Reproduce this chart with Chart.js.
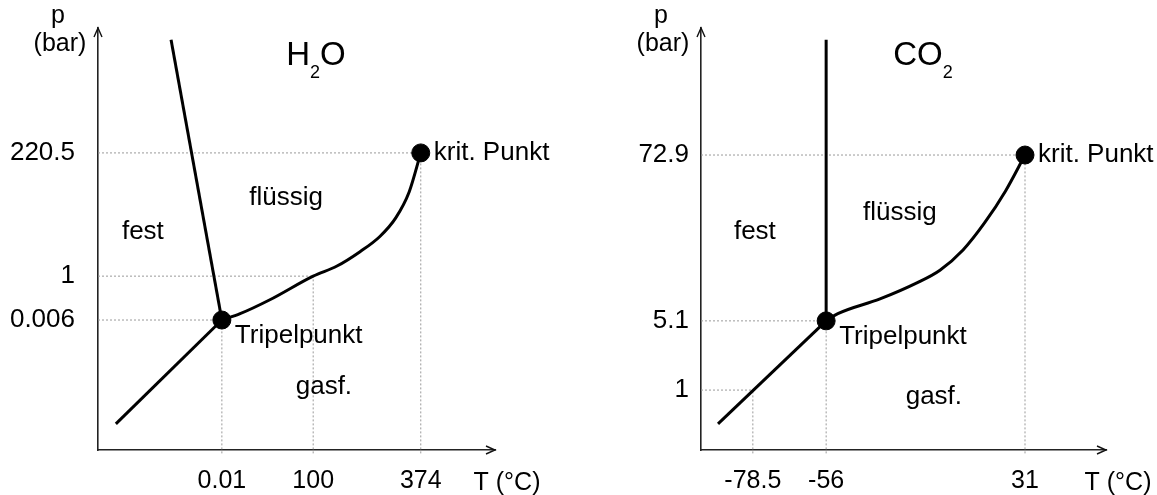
<!DOCTYPE html>
<html>
<head>
<meta charset="utf-8">
<title>Phasendiagramme H2O / CO2</title>
<script src="https://cdn.jsdelivr.net/npm/chart.js@4.4.1/dist/chart.umd.min.js"></script>
<style>
body { margin: 0; background: #fff; }
#page { position: relative; width: 1157px; height: 495px; }
canvas { position: absolute; top: 0; }
</style>
</head>
<body>
<div id="page">
  <canvas id="h2o" width="578" height="495" style="left:0px"></canvas>
  <canvas id="co2" width="579" height="495" style="left:578px"></canvas>
</div>
<script>
// schematic diagrams: both axes run 0..100, not to scale.
// tick i on T and tick i on p meet in a point of the diagram.
var h2oTempLabels  = ['0.01', '100', '374'];
var h2oTempPos     = [31.2, 54.2, 81.3];
var h2oPressLabels = ['0.006', '1', '220.5'];
var h2oPressPos    = [30.8, 41.2, 70.4];
var h2oMelt = [[18.4, 97.2], [31.2, 30.8]];
var h2oSubl = [[4.5, 6.2], [31.2, 30.8]];
var h2oVap  = [[31.2, 30.8], [35.8, 32.3], [43.3, 35.6], [54.2, 41.2], [60.2, 43.6],
               [66.0, 47.0], [71.0, 50.6], [75.0, 55.0], [78.4, 61.2], [81.3, 70.4]];
var h2oRegions   = ['fest', 'flüssig', 'gasf.'];
var h2oRegionPos = [[11.3, 51.7], [47.4, 59.7], [56.9, 14.9]];

var co2TempLabels  = ['-78.5', '-56', '31'];
var co2TempPos     = [12.8, 30.9, 80.0];
var co2PressLabels = ['1', '5.1', '72.9'];
var co2PressPos    = [14.2, 30.6, 69.9];
var co2Melt = [[30.9, 97.2], [30.9, 30.6]];
var co2Subl = [[4.2, 6.2], [30.9, 30.6]];
var co2Vap  = [[30.9, 30.6], [33.8, 32.3], [44.2, 35.8], [53.3, 39.6], [59.0, 42.6],
               [64.7, 47.4], [70.0, 53.8], [75.2, 61.4], [80.0, 69.9]];
var co2Regions   = ['fest', 'flüssig', 'gasf.'];
var co2RegionPos = [[13.3, 51.7], [49.1, 56.2], [57.5, 12.6]];

var FONT = '"Liberation Sans", Arial, sans-serif';

function pts(arr) {
  return arr.map(function (p) { return { x: p[0], y: p[1] }; });
}

// dotted helper lines from the axes to the point where tick i of T and p meet
function guides(xPos, yPos) {
  var sets = [];
  for (var i = 0; i < xPos.length; i++) {
    [[{ x: 0, y: yPos[i] }, { x: xPos[i], y: yPos[i] }],
     [{ x: xPos[i], y: -0.8 }, { x: xPos[i], y: yPos[i] }]].forEach(function (d) {
      sets.push({ data: d, showLine: true, borderColor: '#9a9a9a', borderWidth: 1,
                  borderDash: [2, 2], pointRadius: 0, order: 3, clip: false });
    });
  }
  return sets;
}

// arrows, axis names, region names, title
function decor(cfg) {
  return {
    id: 'decor',
    afterDraw: function (chart) {
      var ctx = chart.ctx, a = chart.chartArea;
      var sx = chart.scales.x, sy = chart.scales.y;
      var n = cfg.xPos.length - 1, t = cfg.triple;
      ctx.save();
      ctx.strokeStyle = '#111';
      ctx.lineWidth = 1.4;
      ctx.beginPath();
      ctx.moveTo(a.left - 4, a.top + 9); ctx.lineTo(a.left, a.top); ctx.lineTo(a.left + 4, a.top + 9);
      ctx.moveTo(a.right - 9, a.bottom - 4); ctx.lineTo(a.right, a.bottom); ctx.lineTo(a.right - 9, a.bottom + 4);
      ctx.stroke();

      ctx.fillStyle = '#000';
      ctx.font = '25px ' + FONT;
      ctx.textAlign = 'center';
      ctx.textBaseline = 'alphabetic';
      ctx.fillText('p', a.left - 40, 23);
      ctx.fillText('(bar)', a.left - 38, 51);
      ctx.fillText('T (°C)', a.right + 12, 490);

      ctx.font = '26px ' + FONT;
      ctx.textBaseline = 'middle';
      cfg.regions.forEach(function (r, i) {
        ctx.fillText(r, sx.getPixelForValue(cfg.regionPos[i][0]), sy.getPixelForValue(cfg.regionPos[i][1]));
      });
      ctx.textAlign = 'left';
      ctx.fillText('Tripelpunkt', sx.getPixelForValue(cfg.xPos[t]) + 13, sy.getPixelForValue(cfg.yPos[t]) + 16);
      ctx.fillText('krit. Punkt', sx.getPixelForValue(cfg.xPos[n]) + 13, sy.getPixelForValue(cfg.yPos[n]));

      // title with subscript 2
      var big = '33px ' + FONT, small = '18px ' + FONT;
      ctx.textBaseline = 'alphabetic';
      ctx.font = big;
      var w1 = ctx.measureText(cfg.title[0]).width, w3 = ctx.measureText(cfg.title[2]).width;
      ctx.font = small;
      var w2 = ctx.measureText(cfg.title[1]).width;
      var x0 = sx.getPixelForValue(cfg.titleAt[0]) - (w1 + w2 + w3) / 2;
      var yb = sy.getPixelForValue(cfg.titleAt[1]);
      ctx.font = big;
      ctx.fillText(cfg.title[0], x0, yb);
      ctx.fillText(cfg.title[2], x0 + w1 + w2, yb);
      ctx.font = small;
      ctx.fillText(cfg.title[1], x0 + w1, yb + 13);
      ctx.restore();
    }
  };
}

function makeChart(id, cfg) {
  var line = { showLine: true, borderColor: '#000', borderWidth: 3, pointRadius: 0, order: 2, clip: false };
  var datasets = [
    Object.assign({ data: pts(cfg.melt) }, line),
    Object.assign({ data: pts(cfg.subl) }, line),
    Object.assign({ data: pts(cfg.vap), cubicInterpolationMode: 'monotone' }, line),
    { data: [{ x: cfg.xPos[cfg.triple], y: cfg.yPos[cfg.triple] },
             { x: cfg.xPos[cfg.xPos.length - 1], y: cfg.yPos[cfg.yPos.length - 1] }],
      pointRadius: 9, pointBackgroundColor: '#000', pointBorderColor: '#000', showLine: false, order: 1, clip: false }
  ].concat(guides(cfg.xPos, cfg.yPos));

  return new Chart(document.getElementById(id), {
    type: 'scatter',
    data: { datasets: datasets },
    options: {
      responsive: false,
      animation: false,
      events: [],
      layout: { padding: { top: 28, right: cfg.padRight, left: 0, bottom: 0 } },
      plugins: { legend: { display: false }, tooltip: { enabled: false } },
      scales: {
        x: {
          type: 'linear', min: 0, max: 100,
          grid: { display: false, drawTicks: false },
          border: { color: '#222', width: 1.6 },
          afterBuildTicks: function (s) { s.ticks = cfg.xPos.map(function (v) { return { value: v }; }); },
          afterFit: function (s) { s.height = 45; s.paddingLeft = 0; s.paddingRight = 0; },
          ticks: { font: { size: 25, family: FONT }, color: '#000', padding: 16, maxRotation: 0, autoSkip: false,
                   callback: function (v, i) { return cfg.xLabels[i]; } }
        },
        y: {
          type: 'linear', min: 0, max: 100,
          grid: { display: false, drawTicks: false },
          border: { color: '#222', width: 1.6 },
          afterBuildTicks: function (s) { s.ticks = cfg.yPos.map(function (v) { return { value: v }; }); },
          afterFit: function (s) { s.width = cfg.axisLeft; s.paddingTop = 0; s.paddingBottom = 0; },
          ticks: { font: { size: 26, family: FONT }, color: '#000', padding: cfg.tickPad, autoSkip: false,
                   callback: function (v, i) { return cfg.yLabels[i]; } }
        }
      }
    },
    plugins: [decor(cfg)]
  });
}

makeChart('h2o', {
  xPos: h2oTempPos, xLabels: h2oTempLabels, yPos: h2oPressPos, yLabels: h2oPressLabels,
  melt: h2oMelt, subl: h2oSubl, vap: h2oVap, triple: 0,
  regions: h2oRegions, regionPos: h2oRegionPos,
  title: ['H', '2', 'O'], titleAt: [54.9, 91.2],
  axisLeft: 98, padRight: 83, tickPad: 23
});

makeChart('co2', {
  xPos: co2TempPos, xLabels: co2TempLabels, yPos: co2PressPos, yLabels: co2PressLabels,
  melt: co2Melt, subl: co2Subl, vap: co2Vap, triple: 1,
  regions: co2Regions, regionPos: co2RegionPos,
  title: ['CO', '2', ''], titleAt: [54.8, 91.2],
  axisLeft: 123, padRight: 51, tickPad: 12
});
</script>
</body>
</html>
